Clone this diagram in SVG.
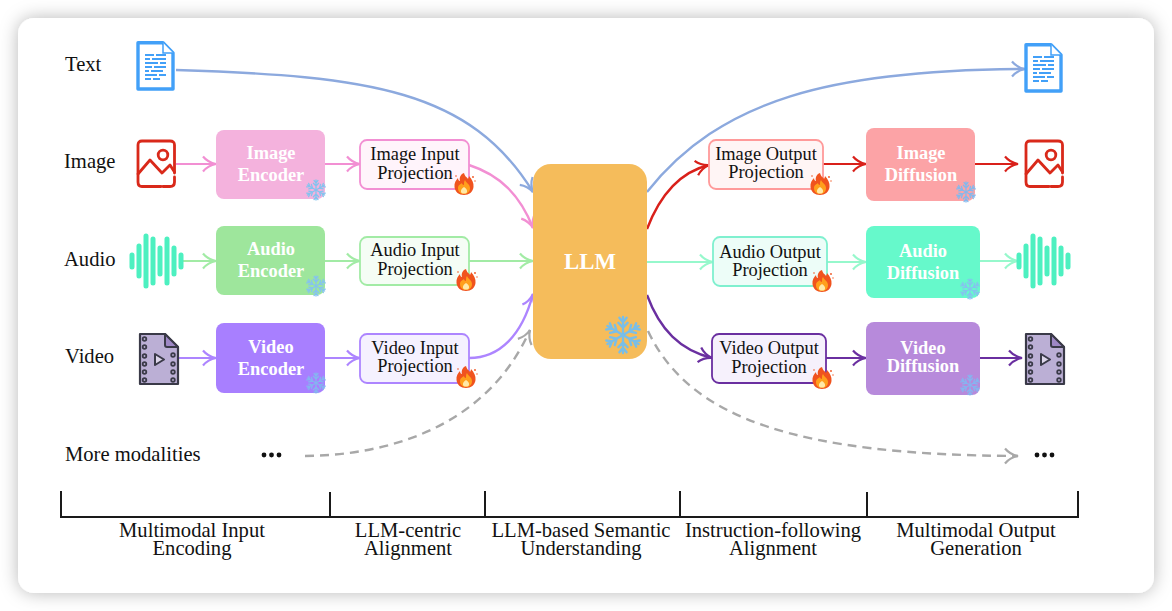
<svg xmlns="http://www.w3.org/2000/svg" xmlns:xlink="http://www.w3.org/1999/xlink" width="1172" height="611" viewBox="0 0 1172 611">
<style>
text{font-family:"Liberation Serif","Times New Roman",serif;text-anchor:middle}
.lab{font-size:20.6px;fill:#111;text-anchor:start}
.sec{font-size:20.6px;fill:#111}
.proj{font-size:18.4px;fill:#111}
.enc{font-size:18.4px;fill:#fff;font-weight:bold}
.c{fill:none;stroke-width:2.4}
.b{stroke-width:2.2}
.blue{stroke:#8CA9DE}.pink{stroke:#F28FD3}.green{stroke:#A2EBA5}.vio{stroke:#AD85FF}
.red{stroke:#D9201A}.teal{stroke:#96F8CC}.pur{stroke:#6A2FA0}.gray{stroke:#A8A8A8;stroke-dasharray:9 6}
.br{fill:none;stroke:#1a1a1a;stroke-width:2}
</style>
<defs>
<filter id="sh" x="-5%" y="-5%" width="110%" height="110%"><feDropShadow dx="0" dy="0" stdDeviation="9" flood-color="#000" flood-opacity=".28"/></filter>
<marker id="m-blue" markerUnits="userSpaceOnUse" markerWidth="20" markerHeight="20" refX="17" refY="10" orient="auto"><path d="M4,2.500Q9,8.500 17,10Q9,11.500 4,17.500" fill="none" stroke="#8CA9DE" stroke-width="2.200"/></marker>
<marker id="m-pink" markerUnits="userSpaceOnUse" markerWidth="20" markerHeight="20" refX="17" refY="10" orient="auto"><path d="M4,2.500Q9,8.500 17,10Q9,11.500 4,17.500" fill="none" stroke="#F28FD3" stroke-width="2.200"/></marker>
<marker id="m-green" markerUnits="userSpaceOnUse" markerWidth="20" markerHeight="20" refX="17" refY="10" orient="auto"><path d="M4,2.500Q9,8.500 17,10Q9,11.500 4,17.500" fill="none" stroke="#A2EBA5" stroke-width="2.200"/></marker>
<marker id="m-vio" markerUnits="userSpaceOnUse" markerWidth="20" markerHeight="20" refX="17" refY="10" orient="auto"><path d="M4,2.500Q9,8.500 17,10Q9,11.500 4,17.500" fill="none" stroke="#AD85FF" stroke-width="2.200"/></marker>
<marker id="m-red" markerUnits="userSpaceOnUse" markerWidth="20" markerHeight="20" refX="17" refY="10" orient="auto"><path d="M4,2.500Q9,8.500 17,10Q9,11.500 4,17.500" fill="none" stroke="#D9201A" stroke-width="2.200"/></marker>
<marker id="m-teal" markerUnits="userSpaceOnUse" markerWidth="20" markerHeight="20" refX="17" refY="10" orient="auto"><path d="M4,2.500Q9,8.500 17,10Q9,11.500 4,17.500" fill="none" stroke="#96F8CC" stroke-width="2.200"/></marker>
<marker id="m-pur" markerUnits="userSpaceOnUse" markerWidth="20" markerHeight="20" refX="17" refY="10" orient="auto"><path d="M4,2.500Q9,8.500 17,10Q9,11.500 4,17.500" fill="none" stroke="#6A2FA0" stroke-width="2.200"/></marker>
<marker id="m-gray" markerUnits="userSpaceOnUse" markerWidth="20" markerHeight="20" refX="17" refY="10" orient="auto"><path d="M4,2.500Q9,8.500 17,10Q9,11.500 4,17.500" fill="none" stroke="#A8A8A8" stroke-width="2.200"/></marker>

<g id="arm"><path d="M0,0V-10M0,-4L-2.600,-6.800M0,-4L2.600,-6.800M0,-7L-2,-9.600M0,-7L2,-9.600"/></g>
<g id="snow" fill="none" stroke-width="1.300" stroke-linecap="round">
<use href="#arm"/><use href="#arm" transform="rotate(60)"/><use href="#arm" transform="rotate(120)"/><use href="#arm" transform="rotate(180)"/><use href="#arm" transform="rotate(240)"/><use href="#arm" transform="rotate(300)"/>
</g>
<g id="flame">
<path d="M0,-11C1,-7 3,-7 4,-5C5,-7 5,-8 5,-8C8,-5 10,-1 9.500,3C9,8 5,11 0,11C-5,11 -9,8 -9.500,3C-10,-1 -8,-4 -6,-6C-6,-4 -5,-3 -4,-3C-5,-7 -3,-10 0,-11Z" fill="#F0531E"/>
<path d="M1,-4C2,-1 6,0 6,4C6,8 3,10 0,10C-3,10 -6,8 -6,4C-6,1 -3,0 -2,-1C-2,0 -1,1 0,1C0,-1 0,-3 1,-4Z" fill="#FF9F1C"/>
<path d="M0,3C2,4 3.500,6 3,8C2.500,10 -2.500,10 -3,8C-3.500,6 -2,4 0,3Z" fill="#FFE9A8"/>
<circle cx="9" cy="-7" r=".9" fill="#F0531E"/><circle cx="-8" cy="-8" r=".8" fill="#F0531E"/><circle cx="11" cy="-3" r=".7" fill="#F0531E"/>
</g>
<g id="doc">
<path d="M2,1.800H27L37,12V48H2Z" fill="#fff" stroke="#42A0F8" stroke-width="3.400" stroke-linejoin="round"/>
<path d="M27,1.800V12H37" fill="#fff" stroke="#42A0F8" stroke-width="1.500"/>
<path d="M9,14H18M20,14H30M9,18H14M16,18H30M9,22H22M24,22H30M9,26H16M18,26H30M9,30H13M15,30H27M9,34H21M23,34H30M9,38H15M17,38H24" stroke="#42A0F8" stroke-width="1.800" fill="none"/>
</g>
<g id="pic" fill="none" stroke="#D9291A" stroke-width="2.800" stroke-linecap="round" stroke-linejoin="round">
<path d="M26,46.500H33Q37.500,46.500 37.500,42V37M37.500,33V5Q37.500,1 33,1H5Q1,1 1,5V42Q1,46.500 5,46.500H24"/>
<path d="M1,34L13,20L25,33L33,25L37.500,32"/>
<circle cx="26" cy="15" r="4.800"/>
</g>
<g id="wave" stroke="#4DF0C0" stroke-width="5" stroke-linecap="round">
<path d="M3,-6V6M10,-15V15M17,-25V25M24,-22V22M31,-13V13M38,-22V22M45,-13V13M52,-6V6"/>
</g>
<g id="vid">
<path d="M1,1H26L39,14V51H1Z" fill="#BBAFD5" stroke="#3A3A48" stroke-width="2.200" stroke-linejoin="round"/>
<path d="M26,1L39,14H28Q26,14 26,12Z" fill="#9E88C5" stroke="#3A3A48" stroke-width="2" stroke-linejoin="round"/>
<g fill="none" stroke="#3A3A48" stroke-width="1.800"><circle cx="5.500" cy="6" r="1.800"/><circle cx="5.500" cy="14" r="1.800"/><circle cx="5.500" cy="23" r="1.800"/><circle cx="5.500" cy="31" r="1.800"/><circle cx="5.500" cy="39" r="1.800"/><circle cx="5.500" cy="47" r="1.800"/><circle cx="34" cy="22" r="1.800"/><circle cx="34" cy="31" r="1.800"/><circle cx="34" cy="39" r="1.800"/><circle cx="34" cy="47" r="1.800"/></g>
<path d="M16,21L25,26.500L16,32Z" fill="#DDD6EA" stroke="#3A3A48" stroke-width="2" stroke-linejoin="round"/>
</g>
</defs>

<rect width="1172" height="611" fill="#fff"/>
<rect id="card" x="18" y="18" width="1136" height="575" rx="16" fill="#fff" filter="url(#sh)"/>

<g id="connectors" class="c">
<path class="c blue" d="M176,70C370,76 470,90 533,192" marker-end="url(#m-blue)"/>
<path class="c blue" d="M647,192C720,100 830,70 1025,69" marker-end="url(#m-blue)"/>
<path class="c b pink" d="M176,164H216" marker-end="url(#m-pink)"/>
<path class="c b pink" d="M325,164H360" marker-end="url(#m-pink)"/>
<path class="c pink" d="M469,165C500,175 520,195 533,228" marker-end="url(#m-pink)"/>
<path class="c b green" d="M183,261H216" marker-end="url(#m-green)"/>
<path class="c b green" d="M325,261H360" marker-end="url(#m-green)"/>
<path class="c b green" d="M469,261H533" marker-end="url(#m-green)"/>
<path class="c b vio" d="M174,358H216" marker-end="url(#m-vio)"/>
<path class="c b vio" d="M325,358H360" marker-end="url(#m-vio)"/>
<path class="c vio" d="M469,358C500,358 522,335 533,294" marker-end="url(#m-vio)"/>
<path class="c gray" d="M305,456C400,455 490,420 530,330" marker-end="url(#m-gray)"/>
<path class="c red" d="M647,229C660,195 680,172 709,165" marker-end="url(#m-red)"/>
<path class="c b red" d="M823,164H866" marker-end="url(#m-red)"/>
<path class="c b red" d="M975,164H1018" marker-end="url(#m-red)"/>
<path class="c b teal" d="M647,262H713" marker-end="url(#m-teal)"/>
<path class="c b teal" d="M827,262H866" marker-end="url(#m-teal)"/>
<path class="c b teal" d="M980,261H1018" marker-end="url(#m-teal)"/>
<path class="c pur" d="M647,295C660,330 680,350 712,358" marker-end="url(#m-pur)"/>
<path class="c b pur" d="M826,358H866" marker-end="url(#m-pur)"/>
<path class="c b pur" d="M980,358H1022" marker-end="url(#m-pur)"/>
<path class="c gray" d="M648,331C690,420 800,455 1018,456" marker-end="url(#m-gray)"/>
</g>

<g id="label-text"><text class="lab" x="65" y="71">Text</text></g>
<g id="label-image"><text class="lab" x="64" y="168">Image</text></g>
<g id="label-audio"><text class="lab" x="64" y="266">Audio</text></g>
<g id="label-video"><text class="lab" x="65" y="363">Video</text></g>
<g id="label-more"><text class="lab" x="65" y="461">More modalities</text></g>

<use id="icon-text-in" href="#doc" x="136" y="41"/>
<use id="icon-image-in" href="#pic" x="137" y="140"/>
<use id="icon-audio-in" href="#wave" x="129" y="261"/>
<use id="icon-video-in" href="#vid" x="139" y="333"/>
<use id="icon-text-out" href="#doc" x="1024" y="43"/>
<use id="icon-image-out" href="#pic" x="1025" y="140"/>
<use id="icon-audio-out" href="#wave" x="1016" y="261"/>
<use id="icon-video-out" href="#vid" x="1025" y="333"/>

<g id="image-encoder"><rect x="216" y="130" width="109" height="69" rx="8" fill="#F4B2DD"/><text class="enc" x="271" y="159">Image</text><text class="enc" x="271" y="181">Encoder</text><use href="#snow" transform="translate(316,190)" stroke="#85C3EE"/></g>
<g id="audio-encoder"><rect x="216" y="226" width="109" height="69" rx="8" fill="#9EE69C"/><text class="enc" x="271" y="255">Audio</text><text class="enc" x="271" y="277">Encoder</text><use href="#snow" transform="translate(316,286)" stroke="#85C3EE"/></g>
<g id="video-encoder"><rect x="216" y="323" width="109" height="70" rx="8" fill="#A87FFF"/><text class="enc" x="271" y="353">Video</text><text class="enc" x="271" y="375">Encoder</text><use href="#snow" transform="translate(316,383)" stroke="#85B5F0"/></g>

<g id="image-input-projection"><rect x="360" y="140" width="109" height="49" rx="7" fill="#FFF4FB" stroke="#F28FD3" stroke-width="1.800"/><text class="proj" x="415" y="160">Image Input</text><text class="proj" x="415" y="179">Projection</text><use href="#flame" x="464" y="184"/></g>
<g id="audio-input-projection"><rect x="360" y="237" width="109" height="48" rx="7" fill="#F5FDF5" stroke="#A2EBA5" stroke-width="1.800"/><text class="proj" x="415" y="256">Audio Input</text><text class="proj" x="415" y="275">Projection</text><use href="#flame" x="466" y="280"/></g>
<g id="video-input-projection"><rect x="360" y="334" width="109" height="49" rx="7" fill="#F5F1FF" stroke="#AD85FF" stroke-width="1.800"/><text class="proj" x="415" y="354">Video Input</text><text class="proj" x="415" y="372">Projection</text><use href="#flame" x="466" y="377"/></g>

<g id="llm"><rect x="533" y="164" width="114" height="195" rx="18" fill="#F5BC5B"/><text x="590" y="269" font-size="22.800" font-weight="bold" fill="#fff">LLM</text><use href="#snow" transform="translate(623,335) scale(1.800)" stroke="#79BEE8"/></g>

<g id="image-output-projection"><rect x="709" y="140" width="114" height="49" rx="7" fill="#FFF5F5" stroke="#FF9A9A" stroke-width="1.800"/><text class="proj" x="766" y="160">Image Output</text><text class="proj" x="766" y="178">Projection</text><use href="#flame" x="820" y="184"/></g>
<g id="audio-output-projection"><rect x="713" y="237" width="114" height="49" rx="7" fill="#EDFDF8" stroke="#7FF0CF" stroke-width="1.800"/><text class="proj" x="770" y="258">Audio Output</text><text class="proj" x="770" y="276">Projection</text><use href="#flame" x="822" y="281"/></g>
<g id="video-output-projection"><rect x="712" y="334" width="114" height="49" rx="7" fill="#F6F1FC" stroke="#6A2FA0" stroke-width="1.800"/><text class="proj" x="769" y="354">Video Output</text><text class="proj" x="769" y="373">Projection</text><use href="#flame" x="822" y="378"/></g>

<g id="image-diffusion"><rect x="866" y="128" width="109" height="73" rx="8" fill="#FCA3A6"/><text class="enc" x="921" y="159">Image</text><text class="enc" x="921" y="181">Diffusion</text><use href="#snow" transform="translate(966,192)" stroke="#85B8EC"/></g>
<g id="audio-diffusion"><rect x="866" y="226" width="114" height="72" rx="8" fill="#66F9CB"/><text class="enc" x="923" y="257">Audio</text><text class="enc" x="923" y="279">Diffusion</text><use href="#snow" transform="translate(970,289)" stroke="#85C3EE"/></g>
<g id="video-diffusion"><rect x="866" y="322" width="114" height="73" rx="8" fill="#B78ADB"/><text class="enc" x="923" y="354">Video</text><text class="enc" x="923" y="372">Diffusion</text><use href="#snow" transform="translate(970,385)" stroke="#85B5F0"/></g>

<g id="more-in" fill="#111"><circle cx="264" cy="455" r="2.400"/><circle cx="271.500" cy="455" r="2.400"/><circle cx="279" cy="455" r="2.400"/></g>
<g id="more-out" fill="#111"><circle cx="1037" cy="455" r="2.400"/><circle cx="1044.500" cy="455" r="2.400"/><circle cx="1052" cy="455" r="2.400"/></g>

<g id="stages">
<path class="br" d="M61,491V517H1078V491M330,492V517M485,491V517M680,491V517M867,492V517"/>
<text class="sec" x="192" y="537">Multimodal Input</text><text class="sec" x="192" y="555">Encoding</text>
<text class="sec" x="408" y="537">LLM-centric</text><text class="sec" x="408" y="555">Alignment</text>
<text class="sec" x="581" y="537">LLM-based Semantic</text><text class="sec" x="581" y="555">Understanding</text>
<text class="sec" x="773" y="537">Instruction-following</text><text class="sec" x="773" y="555">Alignment</text>
<text class="sec" x="976" y="537">Multimodal Output</text><text class="sec" x="976" y="555">Generation</text>
</g>
</svg>
